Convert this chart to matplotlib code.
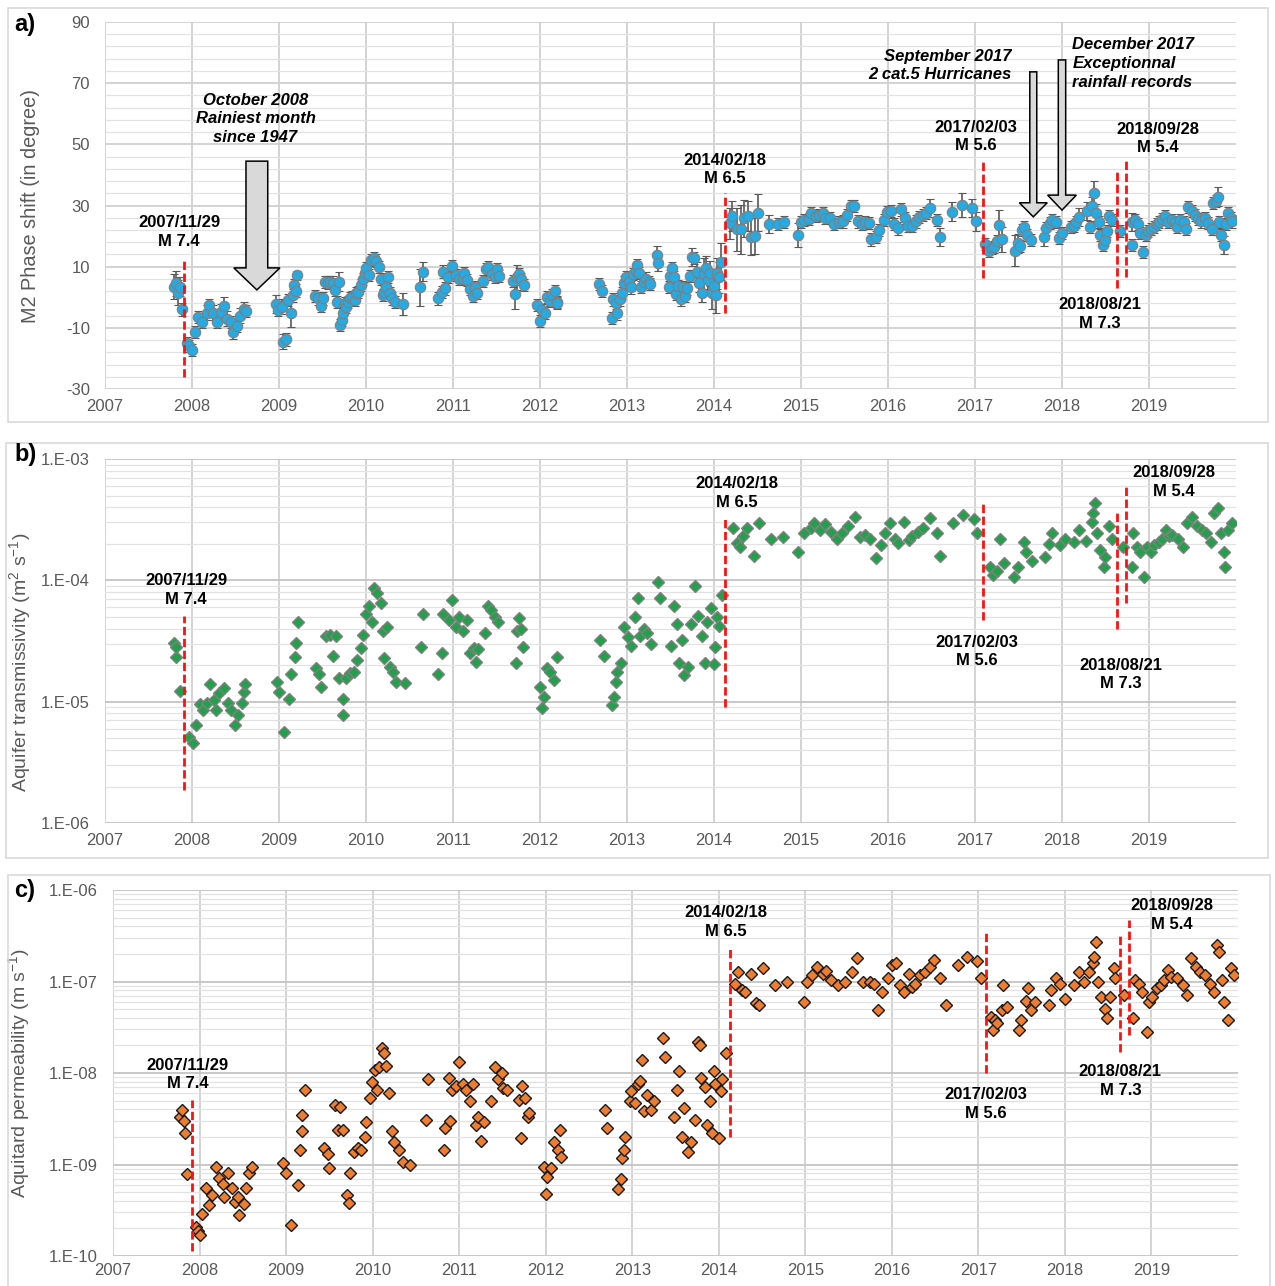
import numpy as np
import matplotlib
matplotlib.use("Agg")
import matplotlib.pyplot as plt
from matplotlib.patches import FancyArrow, Rectangle
from matplotlib.ticker import FixedLocator, LogLocator, FuncFormatter, NullFormatter

plt.rcParams['font.family'] = ['Liberation Sans', 'DejaVu Sans']
plt.rcParams['mathtext.fontset'] = 'custom'
plt.rcParams['mathtext.rm'] = 'Liberation Sans'
plt.rcParams['mathtext.default'] = 'rm'
plt.rcParams['axes.unicode_minus'] = False

# ---------------- data ----------------
years = list(range(2007, 2020))

eq_dates = ["2007/11/29", "2014/02/18", "2017/02/03", "2018/08/21", "2018/09/28"]
eq_mags = ["M 7.4", "M 6.5", "M 5.6", "M 7.3", "M 5.4"]

# a) M2 phase shift (degree) and its uncertainty
a_year = [2007.79, 2007.81, 2007.84, 2007.86, 2007.88,
          2007.945, 2007.97, 2007.995, 2008.033, 2008.07, 2008.117, 2008.167, 2008.198, 2008.243, 2008.282,
          2008.328, 2008.366, 2008.397, 2008.443, 2008.473, 2008.519, 2008.55, 2008.596, 2008.62,
          2008.963, 2008.99, 2009.03, 2009.047, 2009.078, 2009.105, 2009.135, 2009.155, 2009.173, 2009.193,
          2009.212,
          2009.41, 2009.45, 2009.48, 2009.51, 2009.53, 2009.56, 2009.59, 2009.62, 2009.64, 2009.67,
          2009.69, 2009.70, 2009.72, 2009.74, 2009.76, 2009.77, 2009.79, 2009.82, 2009.84, 2009.87,
          2009.89, 2009.91, 2009.94, 2009.96, 2009.99, 2010.00, 2010.03, 2010.06, 2010.09, 2010.12,
          2010.15, 2010.17, 2010.20, 2010.21, 2010.23, 2010.25, 2010.27, 2010.30, 2010.33, 2010.43,
          2010.62, 2010.65, 2010.83, 2010.87, 2010.88, 2010.91, 2010.94, 2010.99, 2011.03, 2011.07,
          2011.11, 2011.13, 2011.16, 2011.19, 2011.23, 2011.25, 2011.27, 2011.35, 2011.38, 2011.40,
          2011.45, 2011.48, 2011.50, 2011.53, 2011.69, 2011.71, 2011.73, 2011.76, 2011.78, 2011.81,
          2011.96, 2012.00, 2012.02, 2012.06, 2012.08, 2012.12, 2012.14, 2012.17, 2012.19, 2012.20,
          2012.68, 2012.71, 2012.83, 2012.84, 2012.87, 2012.89, 2012.92, 2012.94, 2012.96, 2012.99,
          2013.02, 2013.05, 2013.07, 2013.10, 2013.12, 2013.14, 2013.16, 2013.19, 2013.22, 2013.25,
          2013.26, 2013.34, 2013.36, 2013.48, 2013.49, 2013.52, 2013.54, 2013.56, 2013.59, 2013.62,
          2013.64, 2013.67, 2013.69, 2013.72, 2013.75, 2013.77, 2013.80, 2013.83, 2013.86, 2013.89,
          2013.91, 2013.93, 2013.95, 2013.98, 2014.00, 2014.02, 2014.04, 2014.06, 2014.08,
          2014.18, 2014.21, 2014.26, 2014.31, 2014.35, 2014.39, 2014.42, 2014.47, 2014.51, 2014.63,
          2014.74, 2014.80, 2014.96, 2015.00, 2015.04, 2015.09, 2015.12, 2015.17, 2015.21, 2015.25,
          2015.28, 2015.33, 2015.38, 2015.44, 2015.48, 2015.53, 2015.57, 2015.61, 2015.66, 2015.70,
          2015.74, 2015.78, 2015.81, 2015.86, 2015.90, 2015.95, 2015.99, 2016.03, 2016.07, 2016.11,
          2016.15, 2016.20, 2016.23, 2016.28, 2016.32, 2016.36, 2016.40, 2016.44, 2016.48, 2016.56,
          2016.60, 2016.73, 2016.85, 2016.97, 2017.01,
          2017.12, 2017.16, 2017.19, 2017.22, 2017.25, 2017.28, 2017.31, 2017.46, 2017.49, 2017.52,
          2017.54, 2017.56, 2017.60, 2017.64, 2017.79, 2017.82, 2017.86, 2017.89, 2017.93, 2017.96,
          2018.00, 2018.10, 2018.14, 2018.16, 2018.19, 2018.29, 2018.32, 2018.35, 2018.37, 2018.39,
          2018.42, 2018.44, 2018.47, 2018.49, 2018.52, 2018.54, 2018.57,
          2018.67, 2018.80, 2018.81, 2018.84, 2018.87, 2018.90, 2018.93, 2018.96, 2018.99, 2019.02,
          2019.06, 2019.09, 2019.12, 2019.15, 2019.18, 2019.22, 2019.26, 2019.30, 2019.32, 2019.36,
          2019.40, 2019.42, 2019.45, 2019.49, 2019.53, 2019.56, 2019.60, 2019.64, 2019.68, 2019.72,
          2019.74, 2019.77, 2019.79, 2019.81, 2019.83, 2019.86, 2019.88, 2019.91, 2019.94, 2019.95]
a_phase = [3.5, 4.5, 1.5, 3.5, -4.0,
           -15.0, -16.0, -17.3, -11.4, -6.5, -8.0, -5.0, -2.6, -5.0, -8.0,
           -4.7, -3.0, -7.0, -8.0, -11.5, -9.5, -6.0, -4.0, -4.5,
           -2.2, -4.2, -3.1, -14.5, -13.8, -0.9, -5.3, 0.6, 4.0, 2.2,
           7.2,
           0.4, -0.4, -2.9, -0.4, 5.1, 4.8, 5.1, 4.8, 2.4, -1.5,
           5.1, -9.1, -7.5, -5.3, -2.0, -3.1, -1.5, -0.4, 0.2, -0.9,
           1.3, 1.8, 4.0, 5.9, 7.8, 9.5, 7.3, 12.2, 12.8, 12.0,
           10.0, 5.9, 0.7, 1.8, 3.4, 6.5, 1.3, -0.4, -1.5, -2.2,
           3.2, 8.4, -0.4, 1.8, 8.4, 2.9, 6.7, 10.2, 7.3, 5.9,
           5.9, 7.8, 5.6, 2.6, 0.4, 3.2, 1.3, 5.4, 9.1, 9.8,
           7.6, 6.7, 9.1, 6.9, 5.4, 1.1, 6.5, 7.6, 5.9, 4.0,
           -2.5, -7.7, -4.2, -5.0, 0.2, -1.1, 0.7, 2.1, -1.5, -1.8,
           4.3, 2.1, -6.9, -0.7, -2.0, -5.3, -0.7, 1.3, 4.8, 6.7,
           5.1, 3.2, 7.6, 8.7, 10.5, 8.0, 3.4, 5.1, 6.1, 5.1,
           4.3, 13.8, 11.1, 3.4, 6.9, 9.5, 6.7, 1.1, 3.7, -0.7,
           3.2, 0.4, 2.9, 6.9, 13.2, 12.9, 8.4, 4.8, 1.3, 7.8,
           9.5, 5.6, 7.8, 1.3, 3.7, 0.7, 7.8, 6.5, 11.6,
           24.2, 26.6, 22.2, 22.2, 25.8, 26.6, 19.8, 20.0, 27.6, 24.0,
           24.0, 24.7, 20.3, 24.7, 25.3, 25.5, 27.5, 26.6, 26.9, 27.5,
           25.8, 26.0, 24.0, 24.7, 24.8, 26.9, 29.8, 29.8, 24.8, 24.0,
           24.7, 24.2, 18.9, 19.6, 22.0, 25.3, 28.0, 28.3, 24.0, 22.5,
           28.7, 25.8, 23.3, 23.3, 24.8, 26.3, 26.9, 27.5, 29.1, 25.3,
           19.6, 28.0, 30.2, 29.1, 24.8,
           17.4, 15.2, 16.0, 16.5, 18.5, 23.6, 18.9, 15.2, 17.6, 16.8,
           22.0, 23.0, 20.3, 18.7, 19.6, 22.5, 24.4, 25.3, 24.7, 19.3,
           20.9, 23.0, 23.3, 24.7, 26.3, 28.3, 23.0, 29.8, 34.0, 27.5,
           24.7, 20.3, 17.1, 18.7, 21.7, 26.6, 25.3,
           21.7, 17.1, 24.7, 25.3, 24.0, 21.0, 14.9, 20.3, 21.7, 22.2,
           23.0, 24.0, 24.5, 25.5, 26.6, 24.5, 25.3, 24.5, 23.0, 25.3,
           24.5, 22.2, 29.4, 28.3, 27.0, 25.5, 24.8, 25.8, 24.2, 22.2,
           30.7, 31.4, 32.9, 24.5, 20.3, 17.1, 24.0, 27.5, 25.8, 24.8]
a_err = [4, 4, 4, 3, 2,
         2, 2, 2, 2, 2, 2, 2.5, 2, 2.5, 2,
         2.5, 3, 2.5, 2, 2, 2, 2.5, 2.5, 2,
         3, 2, 2.5, 2.5, 2, 2, 4.5, 2, 2, 2,
         1.5,
         2, 2, 2, 2, 2, 2, 2, 2, 2, 2,
         3, 2, 2, 2, 2, 2, 2, 2, 2, 2,
         2, 2, 2, 2, 2, 2, 2, 2, 2, 2,
         2, 2, 2, 2, 2, 2, 2, 2, 2, 3.5,
         6, 3, 2, 2, 2, 2, 2, 2, 2, 2,
         2, 2, 2, 2, 2, 2, 2, 2, 2, 2,
         2, 2, 2, 2, 2, 5, 4, 2, 2, 2,
         2, 2, 2, 2, 2, 2, 2, 2, 2, 2,
         2, 2, 2, 2, 2, 2, 2, 2, 2, 2,
         2, 2, 2, 2, 2, 2, 2, 2, 2, 2,
         2, 3, 2.5, 2, 2, 2, 2, 2, 2, 2,
         2, 2, 2, 2, 3, 2, 3, 3, 3, 5,
         4, 4, 4, 5, 4, 6, 5, 5, 6,
         5, 5, 7, 8, 6, 5, 6, 6, 6, 3,
         2, 2, 4, 2, 2, 2, 2, 2, 2, 2,
         2, 2, 2, 2, 2, 2, 2, 2, 2, 2,
         2, 2, 2, 2, 2, 2, 2, 2, 2, 2,
         2, 2, 2, 2, 2, 2, 2, 2, 3, 2,
         3, 3, 4, 3, 3,
         2, 2, 2, 2, 2, 5, 4, 5, 3, 2,
         2, 2, 2, 2, 3, 2, 2, 2, 2, 2,
         2, 2, 2, 2, 3, 3, 2, 3, 4, 3,
         2, 2, 2, 2, 2, 2, 2,
         2, 2, 3, 2, 2, 2, 2, 2, 2, 2,
         2, 2, 2, 2, 2, 2, 2, 2, 2, 2,
         2, 2, 2, 2, 2, 2, 2, 2, 2, 2,
         2, 2, 3, 2, 2, 3, 2, 2, 2, 2]

# b) aquifer transmissivity (m2/s)
b_year = [2007.79, 2007.81, 2007.82, 2007.86, 2007.97, 2008.01, 2008.05, 2008.09, 2008.13, 2008.17,
          2008.21, 2008.25, 2008.27, 2008.31, 2008.37, 2008.41, 2008.45, 2008.49, 2008.53, 2008.57,
          2008.60, 2008.61,
          2008.98, 2009.00, 2009.06, 2009.11, 2009.14, 2009.18, 2009.19, 2009.22,
          2009.42, 2009.46, 2009.48, 2009.54, 2009.58, 2009.62, 2009.66, 2009.69, 2009.73, 2009.74,
          2009.77, 2009.82, 2009.86, 2009.90, 2009.94, 2009.97, 2010.00, 2010.03, 2010.07, 2010.09,
          2010.13, 2010.17, 2010.20, 2010.21, 2010.24, 2010.27, 2010.31, 2010.35, 2010.45,
          2010.63, 2010.65, 2010.83, 2010.87, 2010.89, 2010.95, 2010.99, 2011.03, 2011.07, 2011.11,
          2011.16, 2011.20, 2011.24, 2011.26, 2011.29, 2011.37, 2011.40, 2011.44, 2011.48, 2011.52,
          2011.72, 2011.74, 2011.76, 2011.78, 2011.80,
          2012.00, 2012.02, 2012.04, 2012.08, 2012.12, 2012.16, 2012.20,
          2012.69, 2012.73, 2012.83, 2012.85, 2012.87, 2012.89, 2012.93, 2012.97, 2013.01, 2013.05,
          2013.09, 2013.13, 2013.15, 2013.20, 2013.23, 2013.28, 2013.36, 2013.38, 2013.50, 2013.54,
          2013.58, 2013.60, 2013.63, 2013.66, 2013.70, 2013.74, 2013.78, 2013.82, 2013.86, 2013.90,
          2013.92, 2013.96, 2014.00, 2014.01, 2014.04, 2014.06, 2014.09,
          2014.22, 2014.26, 2014.30, 2014.33, 2014.38, 2014.46, 2014.52, 2014.65, 2014.79, 2014.97,
          2015.03, 2015.11, 2015.15, 2015.22, 2015.27, 2015.35, 2015.41, 2015.47, 2015.54, 2015.62,
          2015.68, 2015.73, 2015.79, 2015.86, 2015.92, 2015.97, 2016.02, 2016.08, 2016.12, 2016.18,
          2016.24, 2016.28, 2016.34, 2016.40, 2016.48, 2016.56, 2016.60, 2016.75, 2016.86, 2016.99,
          2017.02,
          2017.17, 2017.21, 2017.25, 2017.29, 2017.33, 2017.45, 2017.49, 2017.56, 2017.59, 2017.65,
          2017.80, 2017.85, 2017.89, 2017.98, 2018.04, 2018.14, 2018.20, 2018.28, 2018.34, 2018.36,
          2018.38, 2018.40, 2018.44, 2018.48, 2018.50, 2018.54, 2018.58,
          2018.70, 2018.80, 2018.82, 2018.86, 2018.90, 2018.94, 2018.98, 2019.02, 2019.06, 2019.11,
          2019.15, 2019.19, 2019.23, 2019.27, 2019.33, 2019.39, 2019.44, 2019.49, 2019.55, 2019.61,
          2019.65, 2019.71, 2019.75, 2019.79, 2019.83, 2019.86, 2019.87, 2019.91, 2019.95]
b_trans = [3.06e-5, 2.32e-5, 2.84e-5, 1.23e-5, 5.1e-6, 4.6e-6, 6.4e-6, 9.5e-6, 8.5e-6, 9.8e-6,
           1.4e-5, 1.03e-5, 8.5e-6, 1.17e-5, 1.29e-5, 9.8e-6, 8.5e-6, 6.4e-6, 7.8e-6, 9.8e-6,
           1.2e-5, 1.4e-5,
           1.46e-5, 1.21e-5, 5.6e-6, 1.06e-5, 1.7e-5, 2.35e-5, 3.06e-5, 4.5e-5,
           1.88e-5, 1.7e-5, 1.33e-5, 3.5e-5, 3.55e-5, 2.4e-5, 3.5e-5, 1.56e-5, 7.8e-6, 1.06e-5,
           1.57e-5, 1.73e-5, 1.75e-5, 2.2e-5, 2.75e-5, 3.55e-5, 5.3e-5, 6.1e-5, 4.5e-5, 8.6e-5,
           7.9e-5, 6.5e-5, 3.8e-5, 2.3e-5, 4.15e-5, 1.94e-5, 1.75e-5, 1.46e-5, 1.42e-5,
           2.84e-5, 5.25e-5, 1.7e-5, 2.5e-5, 5.3e-5, 4.7e-5, 6.9e-5, 4.15e-5, 5.0e-5, 3.8e-5,
           4.7e-5, 2.5e-5, 2.75e-5, 2.13e-5, 2.7e-5, 3.66e-5, 6.1e-5, 5.7e-5, 5.0e-5, 4.5e-5,
           2.1e-5, 3.8e-5, 4.86e-5, 4.0e-5, 2.84e-5,
           1.33e-5, 8.8e-6, 1.1e-5, 1.88e-5, 1.75e-5, 1.5e-5, 2.35e-5,
           3.2e-5, 2.4e-5, 9.4e-6, 1.1e-5, 1.46e-5, 1.75e-5, 2.1e-5, 4.15e-5, 3.4e-5, 2.9e-5,
           5.0e-5, 7.1e-5, 3.5e-5, 3.97e-5, 3.66e-5, 3.0e-5, 9.6e-5, 7.2e-5, 2.9e-5, 6.1e-5,
           4.4e-5, 2.1e-5, 3.2e-5, 1.66e-5, 1.94e-5, 4.4e-5, 9.0e-5, 5.1e-5, 3.5e-5, 2.1e-5,
           4.5e-5, 5.9e-5, 2.03e-5, 2.84e-5, 5.0e-5, 4.2e-5, 7.6e-5,
           2.69e-4, 2.02e-4, 1.9e-4, 2.3e-4, 2.69e-4, 1.59e-4, 2.95e-4, 2.2e-4, 2.29e-4, 1.72e-4,
           2.45e-4, 2.69e-4, 2.95e-4, 2.6e-4, 2.9e-4, 2.5e-4, 2.2e-4, 2.45e-4, 2.8e-4, 3.35e-4,
           2.29e-4, 2.35e-4, 2.2e-4, 1.52e-4, 1.96e-4, 2.45e-4, 2.95e-4, 2.2e-4, 2.02e-4, 3.05e-4,
           2.15e-4, 2.3e-4, 2.5e-4, 2.7e-4, 3.25e-4, 2.45e-4, 1.6e-4, 2.95e-4, 3.45e-4, 3.2e-4,
           2.45e-4,
           1.3e-4, 1.1e-4, 1.2e-4, 2.2e-4, 1.4e-4, 1.07e-4, 1.3e-4, 2.06e-4, 1.72e-4, 1.43e-4,
           1.55e-4, 2.0e-4, 2.45e-4, 1.95e-4, 2.2e-4, 2.06e-4, 2.6e-4, 2.1e-4, 3.05e-4, 3.6e-4,
           4.3e-4, 2.45e-4, 1.77e-4, 1.3e-4, 1.55e-4, 2.8e-4, 2.2e-4,
           1.9e-4, 1.3e-4, 2.45e-4, 1.9e-4, 1.72e-4, 1.07e-4, 1.9e-4, 1.72e-4, 1.96e-4, 2.06e-4,
           2.2e-4, 2.6e-4, 2.3e-4, 2.35e-4, 2.2e-4, 1.9e-4, 2.95e-4, 3.35e-4, 2.8e-4, 2.6e-4,
           2.45e-4, 2.06e-4, 3.6e-4, 3.95e-4, 2.45e-4, 1.72e-4, 1.3e-4, 2.6e-4, 2.95e-4]

# c) aquitard permeability (m/s)
c_year = [2007.78, 2007.80, 2007.82, 2007.83, 2007.86, 2007.96, 2007.98, 2008.00, 2008.03, 2008.07,
          2008.11, 2008.14, 2008.19, 2008.22, 2008.27, 2008.28, 2008.33, 2008.37, 2008.41, 2008.45,
          2008.46, 2008.51, 2008.54, 2008.57, 2008.61,
          2008.97, 2009.00, 2009.06, 2009.14, 2009.16, 2009.18, 2009.19, 2009.22,
          2009.44, 2009.49, 2009.50, 2009.57, 2009.60, 2009.62, 2009.66, 2009.70, 2009.73, 2009.74,
          2009.79, 2009.83, 2009.87, 2009.91, 2009.92, 2009.97, 2009.99, 2010.03, 2010.05, 2010.07,
          2010.11, 2010.13, 2010.15, 2010.19, 2010.22, 2010.25, 2010.31, 2010.35, 2010.43,
          2010.62, 2010.64, 2010.82, 2010.84, 2010.88, 2010.90, 2010.92, 2010.96, 2011.00, 2011.04,
          2011.08, 2011.12, 2011.16, 2011.19, 2011.22, 2011.25, 2011.29, 2011.37, 2011.41, 2011.45,
          2011.49, 2011.51, 2011.55, 2011.69, 2011.72, 2011.73, 2011.76, 2011.79, 2011.81,
          2011.98, 2012.00, 2012.02, 2012.06, 2012.10, 2012.14, 2012.16, 2012.18,
          2012.68, 2012.71, 2012.83, 2012.87, 2012.88, 2012.91, 2012.92, 2012.97, 2012.99, 2013.03,
          2013.07, 2013.09, 2013.11, 2013.14, 2013.17, 2013.22, 2013.25, 2013.35, 2013.38, 2013.48,
          2013.52, 2013.54, 2013.57, 2013.60, 2013.64, 2013.68, 2013.72, 2013.76, 2013.78, 2013.80,
          2013.84, 2013.86, 2013.90, 2013.92, 2013.95, 2013.96, 2014.00, 2014.03, 2014.04, 2014.08,
          2014.19, 2014.22, 2014.27, 2014.30, 2014.37, 2014.43, 2014.47, 2014.51, 2014.65, 2014.79,
          2014.98, 2015.02, 2015.08, 2015.14, 2015.20, 2015.24, 2015.30, 2015.38, 2015.46, 2015.54,
          2015.60, 2015.67, 2015.75, 2015.79, 2015.84, 2015.89, 2015.95, 2016.00, 2016.05, 2016.09,
          2016.14, 2016.20, 2016.23, 2016.27, 2016.33, 2016.38, 2016.44, 2016.49, 2016.56, 2016.62,
          2016.76, 2016.87, 2016.98, 2017.03,
          2017.14, 2017.17, 2017.19, 2017.22, 2017.27, 2017.29, 2017.33, 2017.47, 2017.49, 2017.55,
          2017.57, 2017.61, 2017.65, 2017.82, 2017.84, 2017.90, 2017.94, 2018.00, 2018.10, 2018.16,
          2018.22, 2018.28, 2018.33, 2018.34, 2018.36, 2018.38, 2018.42, 2018.46, 2018.49, 2018.52,
          2018.57, 2018.58,
          2018.68, 2018.79, 2018.81, 2018.85, 2018.89, 2018.95, 2018.97, 2019.01, 2019.06, 2019.11,
          2019.15, 2019.19, 2019.23, 2019.30, 2019.36, 2019.41, 2019.46, 2019.52, 2019.56, 2019.62,
          2019.68, 2019.72, 2019.76, 2019.78, 2019.82, 2019.84, 2019.88, 2019.92, 2019.95]
c_perm = [3.3e-9, 3.9e-9, 3.0e-9, 2.2e-9, 7.9e-10, 2.1e-10, 1.9e-10, 1.7e-10, 2.9e-10, 5.5e-10,
          3.6e-10, 4.6e-10, 9.5e-10, 7.1e-10, 6.2e-10, 4.4e-10, 8.0e-10, 5.5e-10, 3.9e-10, 4.4e-10,
          2.8e-10, 3.7e-10, 5.5e-10, 8.0e-10, 9.5e-10,
          1.03e-9, 8.0e-10, 2.2e-10, 6.0e-10, 1.44e-9, 2.3e-9, 3.5e-9, 6.5e-9,
          1.5e-9, 1.3e-9, 9.1e-10, 4.5e-9, 2.4e-9, 4.3e-9, 2.4e-9, 4.6e-10, 3.8e-10, 8.0e-10,
          1.38e-9, 1.5e-9, 1.45e-9, 2.0e-9, 2.9e-9, 5.3e-9, 8.0e-9, 1.08e-8, 6.5e-9, 1.17e-8,
          1.86e-8, 1.65e-8, 1.2e-8, 6.0e-9, 2.3e-9, 1.78e-9, 1.45e-9, 1.07e-9, 1.0e-9,
          3.1e-9, 8.7e-9, 1.45e-9, 2.5e-9, 8.9e-9, 3.0e-9, 6.5e-9, 7.3e-9, 1.33e-8, 7.6e-9,
          6.5e-9, 4.9e-9, 7.6e-9, 2.7e-9, 3.3e-9, 1.8e-9, 2.9e-9, 4.9e-9, 1.17e-8, 8.7e-9,
          9.9e-9, 6.8e-9, 6.5e-9, 5.1e-9, 1.93e-9, 7.3e-9, 5.3e-9, 3.3e-9, 3.7e-9,
          9.5e-10, 4.8e-10, 7.4e-10, 9.1e-10, 1.78e-9, 1.45e-9, 2.4e-9, 1.22e-9,
          3.9e-9, 2.5e-9, 5.4e-10, 7.0e-10, 1.17e-9, 1.45e-9, 2.0e-9, 4.9e-9, 6.3e-9, 4.7e-9,
          7.6e-9, 8.2e-9, 1.39e-8, 3.8e-9, 5.7e-9, 3.9e-9, 4.9e-9, 2.4e-8, 1.48e-8, 3.3e-9,
          6.5e-9, 1.05e-8, 2.0e-9, 4.1e-9, 1.38e-9, 1.78e-9, 3.1e-9, 2.2e-8, 2.0e-8, 8.9e-9,
          7.0e-9, 2.7e-9, 4.9e-9, 2.2e-9, 1.05e-8, 7.6e-9, 1.93e-9, 6.3e-9, 8.7e-9, 1.64e-8,
          9.5e-8, 1.28e-7, 8.1e-8, 7.7e-8, 1.22e-7, 5.8e-8, 5.6e-8, 1.39e-7, 9.2e-8, 1.0e-7,
          6.0e-8, 1.0e-7, 1.18e-7, 1.45e-7, 1.22e-7, 1.3e-7, 1.05e-7, 9.2e-8, 1.0e-7, 1.28e-7,
          1.8e-7, 1.0e-7, 1.0e-7, 9.5e-8, 4.9e-8, 7.7e-8, 1.1e-7, 1.5e-7, 1.6e-7, 9.2e-8,
          7.7e-8, 1.22e-7, 8.8e-8, 9.5e-8, 1.18e-7, 1.28e-7, 1.45e-7, 1.73e-7, 1.1e-7, 5.6e-8,
          1.5e-7, 1.87e-7, 1.66e-7, 1.1e-7,
          4.1e-8, 2.95e-8, 3.8e-8, 3.5e-8, 4.9e-8, 9.2e-8, 5.3e-8, 2.95e-8, 3.8e-8, 6.2e-8,
          8.5e-8, 4.9e-8, 6.0e-8, 5.6e-8, 8.1e-8, 1.1e-7, 9.5e-8, 6.5e-8, 9.2e-8, 1.28e-7,
          1.0e-7, 1.28e-7, 1.6e-7, 1.87e-7, 2.7e-7, 1.0e-7, 6.8e-8, 5.0e-8, 4.0e-8, 6.8e-8,
          1.4e-7, 1.1e-7,
          7.1e-8, 4.0e-8, 1.05e-7, 9.5e-8, 7.7e-8, 2.8e-8, 6.0e-8, 6.8e-8, 8.5e-8, 9.2e-8,
          1.05e-7, 1.35e-7, 1.13e-7, 1.1e-7, 9.2e-8, 7.1e-8, 1.8e-7, 1.45e-7, 1.28e-7, 1.18e-7,
          9.5e-8, 7.7e-8, 2.5e-7, 2.1e-7, 1.05e-7, 6.0e-8, 3.8e-8, 1.4e-7, 1.18e-7]


def dec_year(s):
    y, m, d = map(int, s.split('/'))
    ndays = [31, 28 + (y % 4 == 0), 31, 30, 31, 30, 31, 31, 30, 31, 30, 31]
    return y + (sum(ndays[:m - 1]) + d - 1) / sum(ndays)


eq_x = [dec_year(d) for d in eq_dates]
eq_txt = [f"{d}\n{m}" for d, m in zip(eq_dates, eq_mags)]

GRAY = '#595959'


def style_axes(ax, xpad=7):
    ax.set_xlim(2007, 2020)
    ax.xaxis.set_major_locator(FixedLocator(years))
    ax.xaxis.set_minor_locator(FixedLocator([]))
    for s in ax.spines.values():
        s.set_visible(False)
    ax.tick_params(which='both', length=0, labelsize=12, colors=GRAY)
    ax.tick_params(axis='x', pad=xpad)
    ax.tick_params(axis='y', pad=11)
    ax.grid(which='major', color='#d0d0d0', lw=1.3)
    ax.grid(which='minor', axis='y', color='#e2e2e2', lw=0.9)
    ax.set_axisbelow(True)


def eq_lines(ax, spans, labels):
    for x, (lo, hi), (lx, ly), t in zip(eq_x, spans, labels, eq_txt):
        ax.plot([x, x], [lo, hi], color='#ff1010', lw=2, ls=(0, (3, 1.3)), zorder=4)
        ax.text(lx, ly, t, ha='center', va='center', fontsize=12, fontweight='bold',
                linespacing=1.3, zorder=5)


def block_arrow(ax, x, top, tip, body_w, head_w, head_l):
    ax.add_patch(FancyArrow(x, top, 0, tip - top, width=body_w, head_width=head_w,
                            head_length=head_l, length_includes_head=True,
                            fc='#d9d9d9', ec='black', lw=1.1, zorder=3))


def log_labels(ax, lo_exp, hi_exp):
    ax.set_yscale('log')
    ax.set_ylim(10.0 ** lo_exp, 10.0 ** hi_exp)
    decades = [10.0 ** e for e in range(lo_exp, hi_exp + 1)]
    minors = [k * 10.0 ** e for e in range(lo_exp, hi_exp) for k in range(2, 10)]
    ax.yaxis.set_major_locator(FixedLocator(decades))
    ax.yaxis.set_minor_locator(FixedLocator(minors))
    ax.yaxis.set_major_formatter(FuncFormatter(lambda v, _: '1.E-%02d' % round(-np.log10(v))))
    ax.yaxis.set_minor_formatter(NullFormatter())
    ax.grid(which='major', axis='y', color='#c4c4c4', lw=1.3)


fig = plt.figure(figsize=(12.75, 12.86), dpi=100)

# panel frames
for (x0, y0, w, h) in [(0.0063, 0.6719, 0.988, 0.322), (0.0047, 0.3328, 0.99, 0.3227),
                       (0.0063, -0.01, 0.99, 0.3295)]:
    fig.patches.append(Rectangle((x0, y0), w, h, transform=fig.transFigure, fill=False,
                                 ec='#d9d9d9', lw=1.2))

# ---------------- a) ----------------
ax = fig.add_axes([0.0824, 0.6975, 0.887, 0.2854])
style_axes(ax)
ax.set_ylim(-30, 90)
ax.yaxis.set_major_locator(FixedLocator(range(-30, 91, 20)))
ax.yaxis.set_minor_locator(FixedLocator(range(-30, 91, 4)))
ax.errorbar(a_year, a_phase, yerr=a_err, fmt='o', ms=7.5, mfc='#27a9e1', mec='#7f7f7f',
            mew=0.8, ecolor='#595959', elinewidth=1.2, capsize=3, capthick=1.2, zorder=3)
ax.set_ylabel('M2 Phase shift (in degree)', fontsize=14.3, color=GRAY)
ax.yaxis.set_label_coords(-0.0575, 0.5)
eq_lines(ax, [(-26, 12.8), (-5, 34), (6.3, 44.9), (3.0, 41), (6.6, 45.5)],
         [(2007.85, 21.3), (2014.12, 41.8), (2017.01, 52.6), (2018.44, -5.5), (2019.10, 51.9)])
block_arrow(ax, 2008.745, 44.5, 2.4, 0.25, 0.53, 7.2)
block_arrow(ax, 2017.67, 73.7, 26.3, 0.08, 0.32, 4.6)
block_arrow(ax, 2018.0, 77.6, 28.5, 0.085, 0.33, 4.9)
ax.text(2008.73, 58.3, 'October 2008\nRainiest month\nsince 1947', ha='center', va='center',
        fontsize=12, fontweight='bold', fontstyle='italic', linespacing=1.3)
ax.text(2017.425, 75.8, 'September 2017\n2 cat.5 Hurricanes', ha='right', va='center',
        multialignment='right', fontsize=12, fontweight='bold', fontstyle='italic',
        linespacing=1.3)
ax.text(2018.12, 76.4, 'December 2017\nExceptionnal\nrainfall records', ha='left', va='center',
        fontsize=12, fontweight='bold', fontstyle='italic', linespacing=1.3)
fig.text(0.011, 0.981, 'a)', fontsize=17, fontweight='bold', va='center')

# ---------------- b) ----------------
ax = fig.add_axes([0.0824, 0.36, 0.887, 0.2831])
style_axes(ax)
log_labels(ax, -6, -3)
ax.plot(b_year, b_trans, ls='none', marker='D', ms=6.3, mfc='#22a04b', mec='#808080',
        mew=1, zorder=3)
ax.set_ylabel(r'Aquifer transmissivity (m$^{2}$ s$^{-1}$)', fontsize=14, color=GRAY)
ax.yaxis.set_label_coords(-0.0637, 0.442)
eq_lines(ax, [(1.87e-6, 5.1e-5), (9.1e-6, 3.34e-4), (4.7e-5, 4.45e-4), (4.0e-5, 3.8e-4),
              (6.5e-5, 6.1e-4)],
         [(2007.93, 8.3e-5), (2014.26, 5.25e-4), (2017.02, 2.6e-5), (2018.68, 1.67e-5),
          (2019.29, 6.46e-4)])
fig.text(0.011, 1 - 455 / 1286, 'b)', fontsize=17, fontweight='bold', va='center')

# ---------------- c) ----------------
ax = fig.add_axes([0.0886, 0.0233, 0.8824, 0.2846])
style_axes(ax, xpad=5)
log_labels(ax, -10, -6)
ax.plot(c_year, c_perm, ls='none', marker='D', ms=6.3, mfc='#ed7d31', mec='#1a1a1a',
        mew=1, zorder=3)
ax.set_ylabel(r'Aquitard permeability (m s$^{-1}$)', fontsize=14, color=GRAY)
ax.yaxis.set_label_coords(-0.072, 0.5)
eq_lines(ax, [(1.14e-10, 5.07e-9), (2.0e-9, 2.3e-7), (1e-8, 3.36e-7), (1.7e-8, 3.4e-7),
              (2.6e-8, 4.7e-7)],
         [(2007.86, 9.6e-9), (2014.08, 4.5e-7), (2017.08, 4.6e-9), (2018.64, 8.2e-9),
          (2019.23, 5.3e-7)])
fig.text(0.011, 1 - 890 / 1286, 'c)', fontsize=17, fontweight='bold', va='center')

fig.savefig('out.png', dpi=100)
